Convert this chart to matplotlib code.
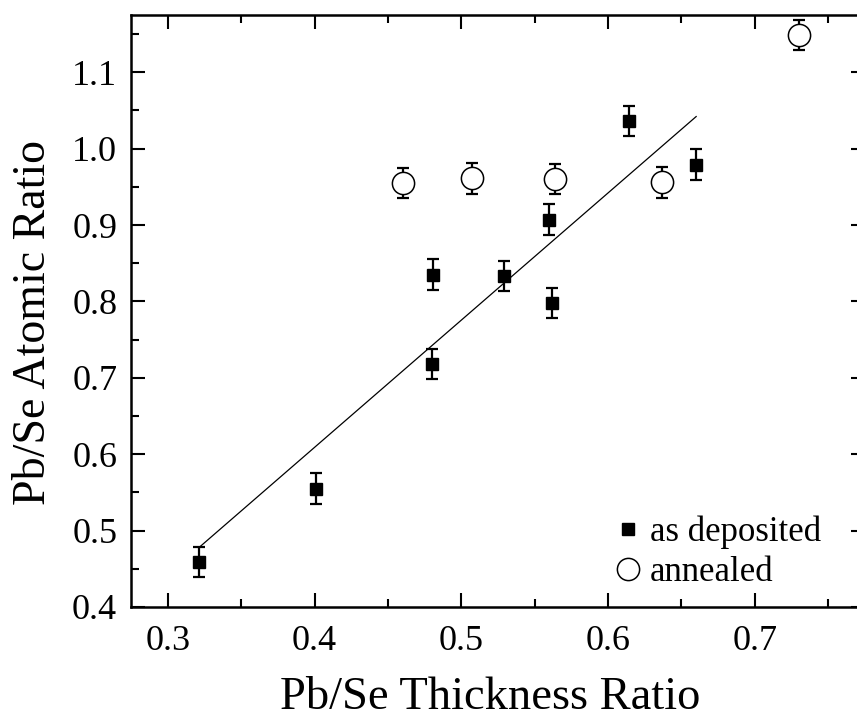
import matplotlib
matplotlib.use("Agg")
import matplotlib.pyplot as plt
from matplotlib.ticker import MultipleLocator

plt.rcParams['font.family'] = ['Liberation Serif', 'DejaVu Serif']

# as deposited films
dep_x = [0.321, 0.401, 0.480, 0.481, 0.529, 0.560, 0.562, 0.614, 0.660]
dep_y = [0.459, 0.555, 0.718, 0.835, 0.833, 0.907, 0.798, 1.036, 0.979]
dep_err = [0.02, 0.02, 0.02, 0.02, 0.02, 0.02, 0.02, 0.02, 0.02]

# annealed films
ann_x = [0.460, 0.507, 0.564, 0.637, 0.730]
ann_y = [0.955, 0.961, 0.960, 0.956, 1.149]
ann_err = [0.02, 0.02, 0.02, 0.02, 0.02]

# linear fit of the as deposited points (end points)
fit_x = [0.322, 0.660]
fit_y = [0.479, 1.042]

fig = plt.figure(figsize=(8.57, 7.19), dpi=100)
ax = fig.add_axes([0.1529, 0.1558, 0.8564, 0.8234])

ax.plot(fit_x, fit_y, color='black', lw=0.9, zorder=2)

ax.errorbar(dep_x, dep_y, yerr=dep_err, fmt='none', ecolor='black',
            elinewidth=1.6, capsize=4.5, capthick=1.6, zorder=3)
ax.errorbar(ann_x, ann_y, yerr=ann_err, fmt='none', ecolor='black',
            elinewidth=1.6, capsize=4.5, capthick=1.6, zorder=3, clip_on=False)

ax.plot(dep_x, dep_y, 's', color='black', ms=8.5, label='as deposited', zorder=4)
ax.plot(ann_x, ann_y, 'o', mfc='white', mec='black', mew=1.1, ms=16,
        label='annealed', zorder=4)

ax.set_xlim(0.275, 0.775)
ax.set_ylim(0.4, 1.175)
ax.xaxis.set_major_locator(MultipleLocator(0.1))
ax.xaxis.set_minor_locator(MultipleLocator(0.05))
ax.yaxis.set_major_locator(MultipleLocator(0.1))
ax.yaxis.set_minor_locator(MultipleLocator(0.05))
ax.xaxis.set_major_formatter(plt.FormatStrFormatter('%.1f'))
ax.yaxis.set_major_formatter(plt.FormatStrFormatter('%.1f'))

ax.tick_params(which='both', direction='in', top=True, right=True,
               width=1.5, labelsize=26)
ax.tick_params(which='major', length=10)
ax.tick_params(which='minor', length=6)
ax.tick_params(axis='x', which='major', pad=13)
ax.tick_params(axis='y', which='major', pad=10)
for s in ax.spines.values():
    s.set_linewidth(1.8)

ax.set_xlabel('Pb/Se Thickness Ratio', fontsize=33.5)
ax.set_ylabel('Pb/Se Atomic Ratio', fontsize=33)
ax.xaxis.set_label_coords(0.49, -0.117)
ax.yaxis.set_label_coords(-0.104, 0.481)

ax.legend(loc='upper left', bbox_to_anchor=(0.658, 0.155), frameon=False,
          fontsize=25, handlelength=0.8, handletextpad=0.23,
          labelspacing=0.2, borderpad=0, borderaxespad=0, numpoints=1)

fig.savefig('out.png', dpi=100)
